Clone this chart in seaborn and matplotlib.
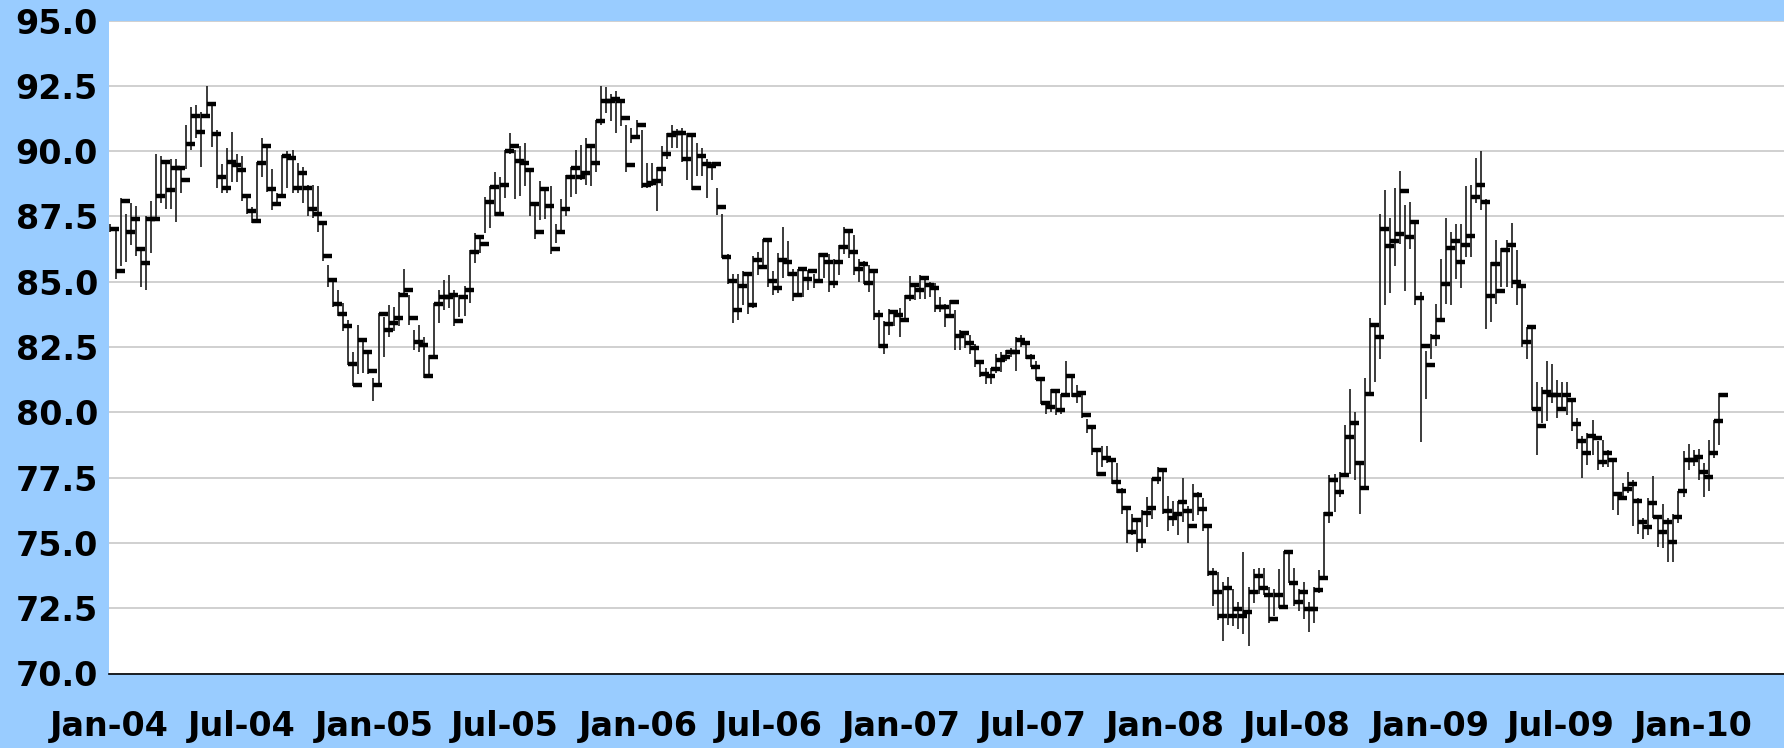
import numpy as np
import pandas as pd
import matplotlib
matplotlib.use("Agg")
import matplotlib.pyplot as plt
import matplotlib.dates as mdates
from matplotlib.ticker import MultipleLocator, FormatStrFormatter
import seaborn as sns

# Cotización semanal (cierre, máximo, mínimo)
primera_semana = "2004-01-02"

cierres = [
    87.0, 85.4, 88.1, 86.9, 87.4, 86.25, 85.7, 87.4, 87.4, 88.3,
    89.6, 88.5, 89.35, 89.35, 88.9, 90.27, 91.36, 90.73, 91.36, 91.82,
    90.64, 89.0, 88.6, 89.6, 89.45, 89.26, 88.27, 87.7, 87.33, 89.54,
    90.18, 88.53, 87.98, 88.27, 89.81, 89.72, 88.6, 89.17, 88.6, 87.8,
    87.6, 87.24, 85.97, 85.05, 84.15, 83.78, 83.32, 81.86, 81.03, 82.78,
    82.31, 81.58, 81.03, 83.78, 83.14, 83.4, 83.6, 84.5, 84.7, 83.6,
    82.68, 82.59, 81.39, 82.13, 84.15, 84.41, 84.41, 84.5, 83.49, 84.41,
    84.7, 86.15, 86.71, 86.43, 88.07, 88.62, 87.61, 88.71, 90.0, 90.18,
    89.63, 89.54, 89.26, 87.98, 86.89, 88.53, 87.9, 86.24, 86.89, 87.8,
    88.99, 89.35, 88.99, 89.17, 90.18, 89.54, 91.17, 91.91, 91.91, 92.0,
    91.91, 91.28, 89.45, 90.55, 91.0, 88.7, 88.79, 88.87, 89.33, 89.88,
    90.61, 90.7, 90.7, 89.7, 90.61, 88.59, 89.8, 89.51, 89.42, 89.51,
    87.86, 85.93, 85.01, 83.93, 84.85, 85.3, 84.12, 85.84, 85.58, 86.59,
    85.03, 84.74, 85.84, 85.75, 85.3, 84.48, 85.49, 85.12, 85.4, 85.03,
    86.04, 85.75, 84.94, 85.75, 86.32, 86.96, 86.13, 85.49, 85.67, 84.94,
    85.4, 83.73, 82.54, 83.38, 83.84, 83.73, 83.55, 84.4, 84.86, 84.68,
    85.14, 84.86, 84.77, 84.04, 84.04, 83.67, 84.22, 82.94, 83.03, 82.66,
    82.48, 81.93, 81.47, 81.38, 81.66, 82.02, 82.11, 82.29, 82.29, 82.75,
    82.66, 82.11, 81.75, 81.29, 80.37, 80.19, 80.83, 80.09, 80.65, 81.38,
    80.65, 80.74, 79.91, 79.45, 78.54, 77.62, 78.26, 78.17, 77.34, 76.98,
    76.34, 75.42, 75.88, 75.06, 76.15, 76.34, 77.44, 77.81, 76.24, 75.94,
    76.12, 76.58, 76.21, 75.66, 76.85, 76.3, 75.66, 73.84, 73.11, 72.19,
    73.29, 72.19, 72.47, 72.19, 72.37, 73.11, 73.75, 73.29, 73.02, 72.09,
    73.02, 72.56, 74.67, 73.47, 72.74, 73.11, 72.47, 72.47, 73.2, 73.66,
    76.12, 77.4, 76.94, 77.59, 79.06, 79.6, 78.05, 77.12, 80.69, 83.34,
    82.9, 87.0, 86.35, 86.54, 86.82, 88.46, 86.72, 87.28, 84.36, 82.53,
    81.8, 82.9, 83.53, 84.91, 86.3, 86.57, 85.75, 86.39, 86.76, 88.24,
    88.69, 88.05, 84.45, 85.66, 84.63, 86.21, 86.39, 85.0, 84.82, 82.7,
    83.25, 80.12, 79.49, 80.77, 80.67, 80.67, 80.12, 80.67, 80.49, 79.56,
    78.92, 78.46, 79.11, 79.01, 78.08, 78.46, 78.19, 76.89, 76.71, 77.08,
    77.26, 76.62, 75.8, 75.6, 76.53, 75.98, 75.41, 75.8, 75.05, 75.98,
    76.99, 78.19, 78.19, 78.28, 77.72, 77.53, 78.46, 79.67, 80.67,
]

maximos = [
    87.2, 87.0, 88.2, 87.6, 88.0, 87.9, 86.2, 87.5, 88.1, 89.9,
    89.8, 89.5, 89.7, 89.7, 89.3, 91.0, 91.7, 91.75, 91.5, 92.5,
    91.8, 90.8, 89.5, 90.1, 90.75, 89.9, 89.8, 88.3, 87.85, 89.6,
    90.5, 90.25, 89.3, 88.4, 89.85, 90.0, 90.05, 89.55, 89.4, 88.7,
    88.7, 88.65, 87.25, 85.65, 85.1, 84.7, 84.2, 83.55, 82.3, 83.35,
    82.8, 82.4, 81.3, 83.8, 83.65, 84.1, 84.05, 84.6, 85.5, 84.5,
    83.15, 83.35, 82.9, 82.2, 84.2, 84.7, 85.05, 85.25, 84.7, 84.5,
    84.85, 86.2, 86.85, 86.65, 88.25, 88.65, 89.2, 89.0, 90.05, 90.7,
    90.05, 90.2, 90.3, 89.3, 88.0, 88.85, 88.6, 88.65, 87.2, 88.15,
    89.1, 89.4, 90.05, 90.25, 90.5, 90.25, 91.2, 92.5, 92.45, 92.2,
    92.3, 92.0, 91.0, 90.9, 91.2, 90.8, 89.55, 89.55, 89.4, 90.2,
    90.7, 91.0, 90.85, 90.9, 90.7, 90.65, 90.3, 90.1, 89.7, 89.6,
    88.6, 87.6, 86.05, 85.3, 85.3, 85.4, 85.3, 86.0, 86.15, 86.65,
    86.6, 85.4, 86.1, 87.1, 86.55, 85.5, 85.5, 85.5, 85.45, 85.3,
    86.1, 86.05, 86.05, 85.85, 86.4, 87.1, 87.0, 86.8, 85.85, 85.8,
    85.65, 85.45, 83.9, 83.5, 83.95, 83.9, 84.0, 84.5, 85.2, 84.95,
    85.25, 85.2, 85.0, 84.95, 84.4, 84.15, 84.3, 83.9, 83.15, 83.0,
    82.95, 82.6, 82.0, 81.7, 81.7, 82.25, 82.3, 82.4, 82.45, 82.9,
    82.95, 82.65, 82.25, 81.95, 81.35, 80.45, 80.9, 80.85, 80.7, 81.95,
    81.4, 81.05, 80.7, 79.75, 79.4, 78.5, 78.7, 78.7, 78.1, 78.05,
    77.1, 76.35, 76.1, 75.9, 76.25, 76.75, 77.5, 77.9, 77.7, 76.8,
    76.6, 76.6, 77.5, 76.4, 77.25, 76.95, 76.7, 75.7, 74.05, 73.9,
    73.5, 73.7, 73.25, 72.75, 74.65, 73.3, 74.0, 74.05, 74.05, 73.3,
    73.25, 74.0, 74.7, 74.65, 74.05, 73.25, 73.5, 72.75, 73.3, 73.95,
    76.2, 77.6, 77.65, 77.7, 79.5, 80.9, 80.0, 78.15, 81.3, 83.6,
    83.25, 87.6, 88.5, 87.45, 88.6, 89.25, 87.95, 88.05, 87.35, 84.6,
    82.35, 83.0, 84.15, 85.85, 87.45, 86.9, 87.2, 87.2, 88.65, 88.7,
    89.75, 90.0, 88.15, 85.75, 86.6, 86.3, 86.6, 87.25, 86.2, 84.85,
    83.25, 83.25, 81.15, 80.95, 81.95, 81.85, 81.25, 81.15, 81.15, 80.5,
    79.8, 79.1, 79.2, 79.7, 78.9, 78.95, 78.55, 78.25, 76.95, 77.3,
    77.7, 77.4, 76.7, 75.95, 76.7, 77.55, 76.05, 76.5, 75.95, 76.1,
    77.0, 78.5, 78.8, 78.55, 78.6, 78.05, 78.95, 79.7, 80.75,
]

minimos = [
    86.9, 85.1, 85.6, 85.75, 86.4, 86.0, 84.8, 84.7, 86.1, 87.4,
    88.0, 87.8, 87.8, 87.3, 88.4, 89.3, 90.05, 90.5, 89.4, 91.3,
    90.15, 88.6, 88.4, 88.4, 88.8, 88.8, 88.1, 87.6, 87.25, 87.3,
    89.0, 88.45, 87.75, 87.9, 88.25, 88.6, 88.4, 88.4, 88.0, 87.5,
    87.45, 86.9, 85.8, 84.8, 84.05, 83.7, 83.1, 81.8, 81.0, 81.45,
    81.5, 81.45, 80.45, 81.05, 82.1, 82.9, 83.1, 83.3, 84.45, 83.35,
    82.4, 82.3, 81.3, 81.35, 82.15, 83.4, 83.9, 84.0, 83.3, 83.65,
    83.7, 84.2, 85.7, 86.1, 86.85, 87.05, 87.5, 87.6, 88.2, 89.9,
    88.15, 88.3, 88.65, 87.5, 86.65, 87.35, 87.4, 86.05, 86.5, 86.85,
    87.5, 88.25, 88.35, 88.9, 88.7, 88.65, 89.2, 91.0, 91.45, 91.15,
    90.7, 90.95, 89.2, 90.3, 90.5, 88.6, 88.6, 88.65, 87.7, 88.65,
    89.7, 90.1, 90.1, 89.6, 88.9, 88.5, 89.05, 89.05, 88.2, 88.9,
    87.55, 85.9, 84.9, 83.4, 83.55, 84.1, 83.75, 84.0, 85.25, 85.5,
    84.8, 84.5, 84.55, 85.15, 85.2, 84.25, 84.55, 84.4, 84.7, 84.75,
    84.95, 85.15, 84.6, 84.75, 85.25, 86.05, 85.9, 85.25, 85.0, 84.9,
    84.6, 83.55, 82.45, 82.25, 82.95, 83.3, 82.9, 83.45, 84.25, 84.3,
    84.35, 84.35, 84.4, 83.85, 83.85, 83.25, 83.6, 82.4, 82.4, 82.45,
    82.25, 81.75, 81.35, 81.1, 81.1, 81.5, 81.55, 81.95, 82.1, 81.6,
    82.5, 82.05, 81.75, 81.25, 80.3, 79.95, 80.0, 79.9, 79.95, 80.6,
    80.6, 80.35, 79.8, 79.2, 78.35, 77.55, 77.9, 78.05, 77.25, 76.9,
    76.1, 75.0, 75.3, 74.65, 74.8, 75.6, 75.9, 77.25, 76.1, 75.45,
    75.65, 75.3, 75.8, 75.0, 75.85, 76.05, 75.45, 73.75, 72.6, 72.05,
    71.25, 71.85, 71.8, 71.7, 71.5, 71.05, 72.7, 73.05, 73.0, 71.95,
    72.2, 72.5, 72.5, 73.45, 72.6, 72.4, 72.1, 71.6, 71.95, 73.1,
    73.6, 75.75, 76.2, 76.75, 77.6, 77.65, 77.4, 76.1, 77.05, 80.75,
    81.15, 82.05, 84.1, 84.55, 85.6, 86.45, 84.65, 86.25, 84.1, 78.85,
    80.5, 82.05, 82.55, 83.45, 84.15, 84.1, 85.1, 84.75, 85.95, 85.95,
    88.0, 87.75, 83.2, 83.45, 84.15, 84.8, 84.8, 84.75, 84.1, 82.5,
    82.05, 80.1, 78.35, 79.6, 79.65, 80.35, 79.8, 80.1, 79.9, 79.3,
    78.6, 77.5, 78.0, 78.35, 77.8, 77.9, 77.9, 76.25, 76.05, 76.75,
    76.9, 75.65, 75.35, 75.15, 75.3, 75.95, 74.85, 74.8, 74.25, 74.25,
    75.75, 76.75, 77.8, 77.95, 77.4, 76.75, 77.0, 78.25, 78.75,
]

fechas = pd.date_range(primera_semana, periods=len(cierres), freq="7D")
df = pd.DataFrame({
    "fecha": fechas,
    "cierre": cierres,
    "maximo": np.maximum(maximos, cierres),
    "minimo": np.minimum(minimos, cierres),
})

sns.set_style("white")
plt.rcParams["font.family"] = ["DejaVu Sans"]
plt.rcParams["font.weight"] = "bold"

fig = plt.figure(figsize=(17.84, 7.48), dpi=100, facecolor="#99CCFF")
ax = fig.add_axes([109 / 1784, 74.5 / 748, 1 - 109 / 1784, 653 / 748])
ax.set_facecolor("white")

# Barras máximo-mínimo y marca de cierre a la derecha
ax.vlines(df["fecha"], df["minimo"], df["maximo"], color="#1a1a1a", lw=1.2, zorder=2)
sns.scatterplot(data=df, x="fecha", y="cierre", marker=[(0, 0), (1, 0)], s=180,
                color="black", edgecolor="black", linewidth=3.2, ax=ax,
                zorder=3, legend=False)

ax.set_xlim(pd.Timestamp("2003-12-31"), pd.Timestamp("2010-05-06"))
ax.set_ylim(70, 95)
ax.yaxis.set_major_locator(MultipleLocator(2.5))
ax.yaxis.set_major_formatter(FormatStrFormatter("%.1f"))
ax.xaxis.set_major_locator(mdates.MonthLocator(bymonth=[1, 7]))
ax.xaxis.set_major_formatter(mdates.DateFormatter("%b-%y"))
ax.set_xlabel("")
ax.set_ylabel("")

ax.grid(axis="y", color="#C8C8C8", lw=1.2)
ax.grid(axis="x", visible=False)
ax.set_axisbelow(True)
for lado in ["left", "top", "right"]:
    ax.spines[lado].set_visible(False)
ax.spines["bottom"].set_color("black")
ax.spines["bottom"].set_linewidth(1.2)

ax.tick_params(axis="x", direction="inout", length=16, width=1.2, color="black",
               pad=18, labelsize=24, labelcolor="black")
ax.tick_params(axis="y", length=0, pad=8, labelsize=24, labelcolor="black")

fig.savefig("out.png", dpi=100, facecolor=fig.get_facecolor())
plt.close(fig)
